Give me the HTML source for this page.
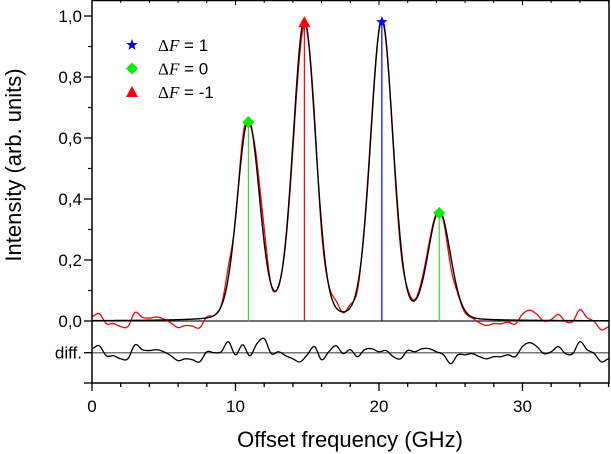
<!DOCTYPE html>
<html><head><meta charset="utf-8"><style>
body{margin:0;background:#fff;}
svg{display:block;font-family:"Liberation Sans",sans-serif;}
</style></head><body>
<svg id="chart" width="611" height="454"></svg>
<script>
// ---- data ----
const peakCenters = [10.9, 14.8, 20.2, 24.2];
const peakAmps = [0.652, 0.98, 0.98, 0.354];
const peakTypes = ["dF0", "dF-1", "dF1", "dF0"];
const residualX = [];
for (let i = 0; i <= 72; i++) residualX.push(i * 0.5);
const residualMilli = [13,23,-10,-10,-20,-20,26,10,7,10,3,-10,-26,-20,-23,-30,3,0,3,36,-7,26,-10,30,46,-3,3,-10,-20,-30,-7,20,-23,3,23,-3,10,-13,10,13,3,7,-13,-20,7,3,13,13,3,-7,-36,-7,-7,-3,-13,-20,-13,-13,-7,-13,20,33,20,-3,3,20,-3,-3,36,10,-3,-30,-20];
const yTicks = [0, 0.2, 0.4, 0.6, 0.8, 1.0];
const yTickLabels = ["0,0","0,2","0,4","0,6","0,8","1,0"];
const xTicks = [0, 10, 20, 30];
const xTickLabels = ["0","10","20","30"];

// ---- axes ----
const X0=92, X1=609, Y0=321, PXU=305, DIFFY=352.7, BOTTOM=383;
const xs = f => X0 + (f/36.03)*(X1-X0);
const ys = v => Y0 - v*PXU;
const yd = v => DIFFY - v*PXU;
const HW=0.9, SIG=0.78, ETA=0.12;
function fit(f){let s=0;for(let i=0;i<peakCenters.length;i++){const d=f-peakCenters[i];s+=peakAmps[i]*((1-ETA)*Math.exp(-d*d/(2*SIG*SIG))+ETA/(1+(d/HW)*(d/HW)));}return s;}
function resid(f){const h=0.5;let i=Math.floor(f/h);if(i>=residualMilli.length-1)i=residualMilli.length-2;const t=(f-residualX[i])/h;
 const p0=residualMilli[Math.max(i-1,0)],p1=residualMilli[i],p2=residualMilli[i+1],p3=residualMilli[Math.min(i+2,residualMilli.length-1)];
 return 0.001*0.5*((2*p1)+(-p0+p2)*t+(2*p0-5*p1+4*p2-p3)*t*t+(-p0+3*p1-3*p2+p3)*t*t*t);}

const NS="http://www.w3.org/2000/svg", svg=document.getElementById('chart');
function el(tag,attrs,parent){const e=document.createElementNS(NS,tag);for(const k in attrs)e.setAttribute(k,attrs[k]);(parent||svg).appendChild(e);return e;}

let l=el('line',{x1:X0,x2:X1,y1:Y0,y2:Y0,stroke:'#222','stroke-width':1.2});


l=el('line',{x1:X0,x2:X1,y1:DIFFY,y2:DIFFY,stroke:'#777','stroke-width':1.5});



const stickColor={"dF0":"#33dd33","dF-1":"#ff0000","dF1":"#0000ff"};
peakCenters.forEach((c,i)=>{
 const s=el('line',{x1:xs(c),x2:xs(c),y1:Y0,y2:ys(peakAmps[i]),stroke:stickColor[peakTypes[i]],'stroke-width':1.2});
 
 
});

let dData='',dFit='',dDiff='';
for(let f=0;f<=36.03;f+=0.05){const c=f===0?'M':'L';
 dData+=c+xs(f).toFixed(2)+','+ys(fit(f)+resid(f)).toFixed(2);
 dFit+=c+xs(f).toFixed(2)+','+ys(fit(f)).toFixed(2);
 dDiff+=c+xs(f).toFixed(2)+','+yd(resid(f)).toFixed(2);}
let p=el('path',{d:dData,fill:'none',stroke:'#ff0000','stroke-width':1.3});


p=el('path',{d:dFit,fill:'none',stroke:'#000','stroke-width':1.4});


p=el('path',{d:dDiff,fill:'none',stroke:'#000','stroke-width':1.3});



function star(cx,cy,r){let pts=[];for(let k=0;k<10;k++){const a=-Math.PI/2+k*Math.PI/5,rr=k%2?r*0.42:r;pts.push((cx+rr*Math.cos(a)).toFixed(1)+','+(cy+rr*Math.sin(a)).toFixed(1));}return pts.join(' ');}
function marker(type,cx,cy){
 if(type==='dF1')return el('polygon',{points:star(cx,cy,6),fill:'#0000ff'});
 if(type==='dF0')return el('polygon',{points:`${cx},${cy-6} ${cx+6},${cy} ${cx},${cy+6} ${cx-6},${cy}`,fill:'#00ee00'});
 return el('polygon',{points:`${cx},${cy-6} ${cx+6},${cy+5} ${cx-6},${cy+5}`,fill:'#ff0000'});
}
peakCenters.forEach((c,i)=>{
 const m=marker(peakTypes[i],xs(c),ys(peakAmps[i]));
 
 
});

const fr=el('rect',{x:X0,y:0.5,width:X1-X0,height:BOTTOM-0.5,fill:'none',stroke:'#000','stroke-width':1.5});



yTicks.forEach((v,i)=>{
 const t=el('line',{x1:X0-8,x2:X0,y1:ys(v),y2:ys(v),stroke:'#000','stroke-width':1.3});
 
 
 const tx=el('text',{x:X0-10,y:ys(v)+6,'text-anchor':'end','font-size':17});
 tx.textContent=yTickLabels[i];
 
 
 if(i<yTicks.length-1){const m=el('line',{x1:X0-4,x2:X0,y1:ys(v+0.1),y2:ys(v+0.1),stroke:'#000','stroke-width':1.2});
 
 }
});
let dt=el('line',{x1:X0-8,x2:X0,y1:DIFFY,y2:DIFFY,stroke:'#000','stroke-width':1.3});


dt=el('line',{x1:X0-8,x2:X0,y1:BOTTOM,y2:BOTTOM,stroke:'#000','stroke-width':1.3});


let dl=el('text',{x:X0-10,y:DIFFY+6,'text-anchor':'end','font-size':17});
dl.textContent='diff.';



for(let f=0;f<=36;f+=2){
 const major=f%10===0;
 const t=el('line',{x1:xs(f),x2:xs(f),y1:BOTTOM,y2:BOTTOM+(major?8:4),stroke:'#000','stroke-width':1.3});
 
 
 const tt=el('line',{x1:xs(f),x2:xs(f),y1:0,y2:major?5:3,stroke:'#000','stroke-width':1});
 
 
}
xTicks.forEach((v,i)=>{
 const tx=el('text',{x:xs(v),y:412,'text-anchor':'middle','font-size':17});
 tx.textContent=xTickLabels[i];
 
 
});

let tt=el('text',{x:350,y:447,'text-anchor':'middle','font-size':22});
tt.textContent='Offset frequency (GHz)';


tt=el('text',{x:0,y:0,'text-anchor':'middle','font-size':22,transform:'translate(21,165) rotate(-90)'});
tt.textContent='Intensity (arb. units)';



const legTypes=["dF1","dF0","dF-1"], legVals=["1","0","-1"];
legTypes.forEach((t,i)=>{
 const y=45+i*23.5;
 const g=el('g',{});
 
 
 const m=marker(t,132,y); g.appendChild(m);
 const tx=el('text',{x:158,y:y+6,'font-size':17},g);
 tx.innerHTML='<tspan font-family="Liberation Serif, serif">Δ</tspan><tspan font-family="Liberation Serif, serif" font-style="italic">F</tspan> = '+legVals[i];
});
</script>
</body></html>
